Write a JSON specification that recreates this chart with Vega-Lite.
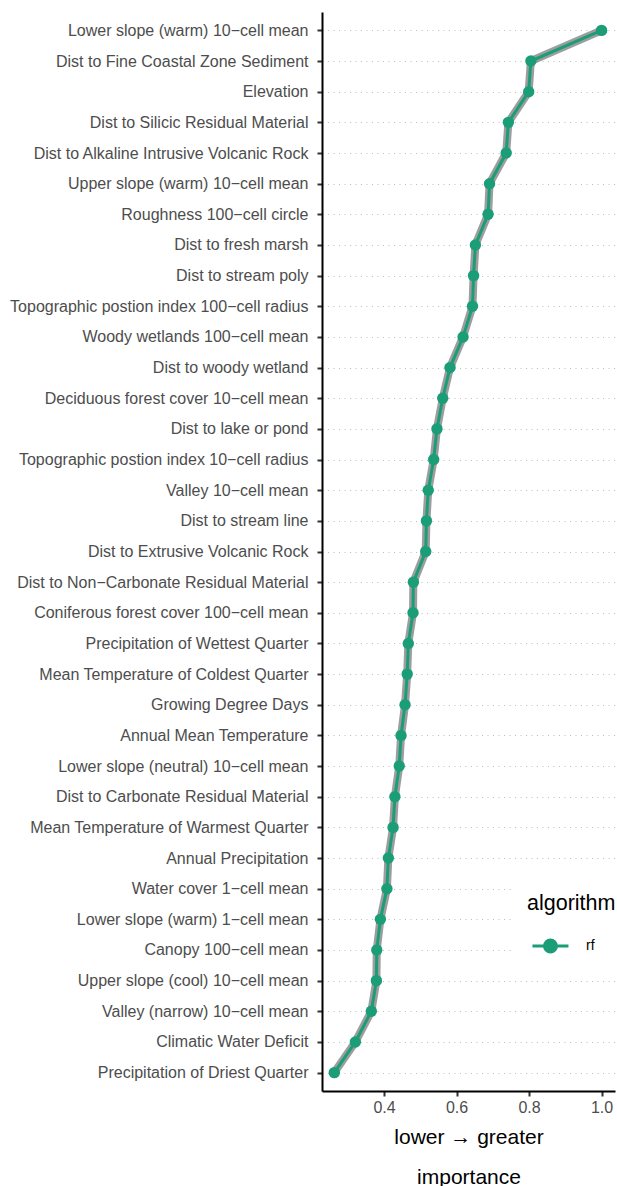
{
  "$schema": "https://vega.github.io/schema/vega-lite/v6.json",
  "autosize": "none",
  "width": 293,
  "height": 1079,
  "padding": {"left": 322, "top": 12, "right": 2, "bottom": 95},
  "background": "white",
  "config": {
    "font": "Liberation Sans",
    "view": {"stroke": null}
  },
  "data": {"values": [
    {"variable": "Lower slope (warm) 10−cell mean", "importance": 1.0, "algorithm": "rf", "rank": 1},
    {"variable": "Dist to Fine Coastal Zone Sediment", "importance": 0.805, "algorithm": "rf", "rank": 2},
    {"variable": "Elevation", "importance": 0.799, "algorithm": "rf", "rank": 3},
    {"variable": "Dist to Silicic Residual Material", "importance": 0.743, "algorithm": "rf", "rank": 4},
    {"variable": "Dist to Alkaline Intrusive Volcanic Rock", "importance": 0.737, "algorithm": "rf", "rank": 5},
    {"variable": "Upper slope (warm) 10−cell mean", "importance": 0.691, "algorithm": "rf", "rank": 6},
    {"variable": "Roughness 100−cell circle", "importance": 0.687, "algorithm": "rf", "rank": 7},
    {"variable": "Dist to fresh marsh", "importance": 0.652, "algorithm": "rf", "rank": 8},
    {"variable": "Dist to stream poly", "importance": 0.647, "algorithm": "rf", "rank": 9},
    {"variable": "Topographic postion index 100−cell radius", "importance": 0.644, "algorithm": "rf", "rank": 10},
    {"variable": "Woody wetlands 100−cell mean", "importance": 0.618, "algorithm": "rf", "rank": 11},
    {"variable": "Dist to woody wetland", "importance": 0.582, "algorithm": "rf", "rank": 12},
    {"variable": "Deciduous forest cover 10−cell mean", "importance": 0.562, "algorithm": "rf", "rank": 13},
    {"variable": "Dist to lake or pond", "importance": 0.546, "algorithm": "rf", "rank": 14},
    {"variable": "Topographic postion index 10−cell radius", "importance": 0.537, "algorithm": "rf", "rank": 15},
    {"variable": "Valley 10−cell mean", "importance": 0.522, "algorithm": "rf", "rank": 16},
    {"variable": "Dist to stream line", "importance": 0.517, "algorithm": "rf", "rank": 17},
    {"variable": "Dist to Extrusive Volcanic Rock", "importance": 0.515, "algorithm": "rf", "rank": 18},
    {"variable": "Dist to Non−Carbonate Residual Material", "importance": 0.481, "algorithm": "rf", "rank": 19},
    {"variable": "Coniferous forest cover 100−cell mean", "importance": 0.480, "algorithm": "rf", "rank": 20},
    {"variable": "Precipitation of Wettest Quarter", "importance": 0.467, "algorithm": "rf", "rank": 21},
    {"variable": "Mean Temperature of Coldest Quarter", "importance": 0.464, "algorithm": "rf", "rank": 22},
    {"variable": "Growing Degree Days", "importance": 0.458, "algorithm": "rf", "rank": 23},
    {"variable": "Annual Mean Temperature", "importance": 0.447, "algorithm": "rf", "rank": 24},
    {"variable": "Lower slope (neutral) 10−cell mean", "importance": 0.442, "algorithm": "rf", "rank": 25},
    {"variable": "Dist to Carbonate Residual Material", "importance": 0.430, "algorithm": "rf", "rank": 26},
    {"variable": "Mean Temperature of Warmest Quarter", "importance": 0.425, "algorithm": "rf", "rank": 27},
    {"variable": "Annual Precipitation", "importance": 0.412, "algorithm": "rf", "rank": 28},
    {"variable": "Water cover 1−cell mean", "importance": 0.408, "algorithm": "rf", "rank": 29},
    {"variable": "Lower slope (warm) 1−cell mean", "importance": 0.390, "algorithm": "rf", "rank": 30},
    {"variable": "Canopy 100−cell mean", "importance": 0.380, "algorithm": "rf", "rank": 31},
    {"variable": "Upper slope (cool) 10−cell mean", "importance": 0.379, "algorithm": "rf", "rank": 32},
    {"variable": "Valley (narrow) 10−cell mean", "importance": 0.365, "algorithm": "rf", "rank": 33},
    {"variable": "Climatic Water Deficit", "importance": 0.321, "algorithm": "rf", "rank": 34},
    {"variable": "Precipitation of Driest Quarter", "importance": 0.263, "algorithm": "rf", "rank": 35}
  ]},
  "encoding": {
    "y": {
      "field": "variable", "type": "nominal", "sort": null,
      "scale": {"type": "point", "padding": 0.6},
      "axis": {
        "title": null, "domain": true, "domainColor": "black", "domainWidth": 2,
        "ticks": true, "tickColor": "#333333", "tickSize": 5, "tickWidth": 2,
        "labelFontSize": 16, "labelColor": "#4d4d4d", "labelPadding": 9, "labelLimit": 0,
        "grid": true, "gridColor": "#bdbdbd", "gridDash": [1, 4.5], "gridWidth": 1
      }
    },
    "x": {
      "field": "importance", "type": "quantitative",
      "scale": {"domain": [0.229, 1.037], "nice": false, "zero": false},
      "axis": {
        "values": [0.4, 0.6, 0.8, 1.0], "format": ".1f",
        "title": ["lower → greater", "importance"],
        "titleFontSize": 21, "titleFontWeight": "normal", "titleColor": "black",
        "titleLineHeight": 40, "titlePadding": 11,
        "domain": true, "domainColor": "black", "domainWidth": 2,
        "ticks": true, "tickColor": "#333333", "tickSize": 5, "tickWidth": 2,
        "labelFontSize": 16, "labelColor": "#4d4d4d", "labelPadding": 3,
        "grid": false
      }
    },
    "order": {"field": "rank", "type": "quantitative"}
  },
  "layer": [
    {"mark": {"type": "line", "color": "#8c8c8c", "strokeWidth": 8, "opacity": 0.85}},
    {"mark": {"type": "line", "strokeWidth": 3, "color": "#1B9E77"}},
    {"mark": {"type": "point", "filled": true, "opacity": 1, "size": 130},
     "encoding": {"color": {"field": "algorithm", "type": "nominal",
       "scale": {"range": ["#1B9E77"]},
       "legend": {
         "orient": "none", "legendX": 190, "legendY": 866,
         "fillColor": "white", "padding": 15,
         "title": "algorithm", "titleFontSize": 21.5, "titleFontWeight": "normal", "titleColor": "black",
         "titlePadding": 18,
         "symbolType": "M-0.67,0L2.33,0M0.33,0A0.5,0.5 0 1,0 1.33,0A0.5,0.5 0 1,0 0.33,0Z",
         "symbolSize": 576, "symbolStrokeWidth": 3, "symbolOpacity": 1,
         "symbolFillColor": "#1B9E77", "symbolStrokeColor": "#1B9E77",
         "labelFontSize": 14, "labelColor": "black", "labelOffset": 32
       }}}}
  ]
}
